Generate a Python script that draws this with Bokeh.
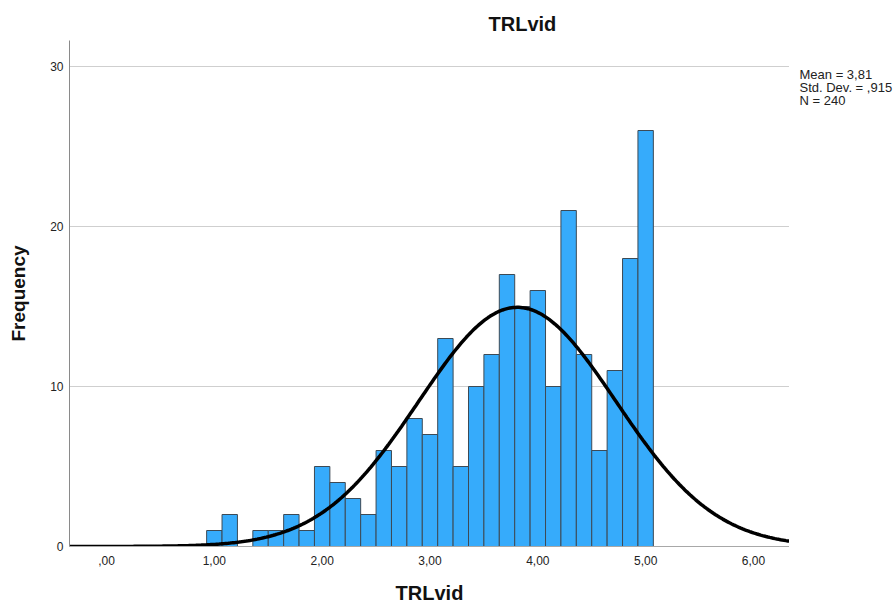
import numpy as np
from bokeh.plotting import figure
from bokeh.layouts import row
from bokeh.models import ColumnDataSource, Label, FixedTicker, Range1d, Title
from bokeh.embed import file_html
from bokeh.resources import INLINE

# Histogram data (bins of width 1/7, centred at 7/7 .. 35/7)
bin_centers = [k / 7 for k in range(7, 36)]
counts = [1, 2, 0, 1, 1, 2, 1, 5, 4, 3, 2, 6, 5, 8, 7, 13, 5, 10, 12, 17,
          15, 16, 10, 21, 12, 6, 11, 18, 26]
bin_width = 1 / 7
mean_val = 3.81
sd_val = 0.915
n_val = 240
x_ticks = [0, 1, 2, 3, 4, 5, 6]
x_tick_labels = [",00", "1,00", "2,00", "3,00", "4,00", "5,00", "6,00"]
y_ticks = [0, 10, 20, 30]
stats_lines = ["Mean = 3,81", "Std. Dev. = ,915", "N = 240"]
title_text = "TRLvid"
x_label_text = "TRLvid"
y_label_text = "Frequency"

# pixel geometry of the chart frame (x 69..789, y 40..546)
PX_X = 107.83          # px per x unit
PX_Y = 16.0            # px per y unit
X0_PX = 106            # pixel of x = 0
FRAME_L, FRAME_R, FRAME_T, FRAME_B = 69, 789, 40, 546
TOTAL_W, TOTAL_H = 896, 607

x_lo = (FRAME_L - X0_PX) / PX_X
x_hi = (FRAME_R - X0_PX) / PX_X
y_lo, y_hi = 0, (FRAME_B - FRAME_T) / PX_Y

p = figure(width=FRAME_R, height=TOTAL_H, output_backend="svg", toolbar_location=None,
           x_range=Range1d(x_lo, x_hi), y_range=Range1d(y_lo, y_hi),
           min_border_left=FRAME_L, min_border_right=0, min_border_top=FRAME_T,
           min_border_bottom=TOTAL_H - FRAME_B)
p.outline_line_color = None
p.background_fill_color = "white"
p.border_fill_color = "white"

src = ColumnDataSource(dict(x=bin_centers, top=counts))
p.vbar(x="x", top="top", bottom=0, width=bin_width, source=src,
       fill_color="#36abfb", line_color="#3d4a55", line_width=1)

# fitted normal curve
xs = np.linspace(x_lo, x_hi, 400)
ys = n_val * bin_width / (sd_val * np.sqrt(2 * np.pi)) * np.exp(-0.5 * ((xs - mean_val) / sd_val) ** 2)
p.line(xs, ys, line_color="black", line_width=3.5)

# grid and axes
p.xgrid.grid_line_color = None
p.ygrid.grid_line_color = "#cfcfcf"
p.ygrid.grid_line_width = 1
p.xaxis.ticker = FixedTicker(ticks=x_ticks)
p.xaxis.major_label_overrides = {t: l for t, l in zip(x_ticks, x_tick_labels)}
p.yaxis.ticker = FixedTicker(ticks=y_ticks)
for ax in (p.xaxis, p.yaxis):
    ax.major_tick_line_color = None
    ax.minor_tick_line_color = None
    ax.major_tick_out = 0
    ax.major_tick_in = 0
    ax.minor_tick_out = 0
    ax.minor_tick_in = 0
    ax.major_label_text_font = "Liberation Sans"
    ax.major_label_text_font_size = "12px"
    ax.major_label_text_color = "#222222"
    ax.axis_label_text_font = "Liberation Sans"
    ax.axis_label_text_font_style = "bold"
    ax.axis_label_text_color = "#111111"
p.xaxis.axis_line_color = "#a8a8a8"
p.yaxis.axis_line_color = "#8a8a8a"
p.xaxis.major_label_standoff = 9
p.yaxis.major_label_standoff = 6
p.xaxis.axis_label = x_label_text
p.yaxis.axis_label = y_label_text
p.xaxis.axis_label_text_font_size = "20px"
p.yaxis.axis_label_text_font_size = "19px"
p.xaxis.axis_label_standoff = 14
p.yaxis.axis_label_standoff = 18

# main title (offset to match the reference position)
p.add_layout(Title(text=title_text, align="left", offset=488 - FRAME_L,
                   standoff=12, text_font="Liberation Sans", text_font_style="bold",
                   text_font_size="20px", text_color="#111111"), "above")

# side panel holding the summary statistics (its frame aligns with the chart frame)
side_w = TOTAL_W - FRAME_R
s = figure(width=side_w, height=TOTAL_H, output_backend="svg", toolbar_location=None,
           x_range=Range1d(0, side_w), y_range=Range1d(0, FRAME_B - FRAME_T),
           x_axis_type=None, y_axis_type=None,
           min_border_left=0, min_border_right=0, min_border_top=FRAME_T,
           min_border_bottom=TOTAL_H - FRAME_B)
s.outline_line_color = None
s.background_fill_color = "white"
s.border_fill_color = "white"
s.xgrid.grid_line_color = None
s.ygrid.grid_line_color = None
for i, line in enumerate(stats_lines):
    s.add_layout(Label(x=799 - FRAME_R, y=FRAME_B - (74 + 13 * i), text=line,
                       text_font="Liberation Sans", text_font_size="13px",
                       text_align="left", text_baseline="middle", text_color="#222222"))

layout = row(p, s, spacing=0)
open("out.html", "w").write(file_html(layout, INLINE))
